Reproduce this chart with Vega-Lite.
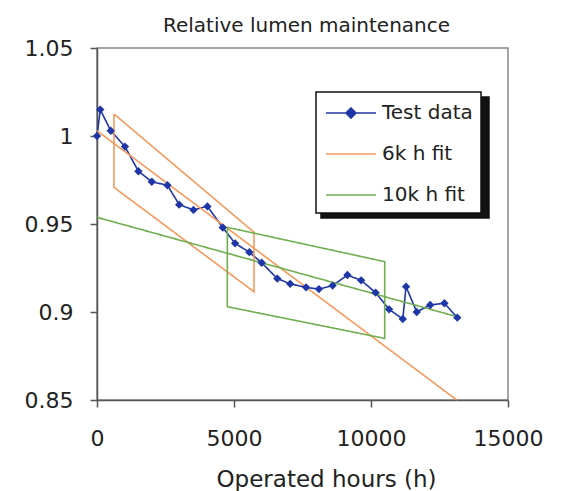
{
  "$schema": "https://vega.github.io/schema/vega-lite/v6.json",
  "width": 411,
  "height": 352,
  "autosize": "none",
  "padding": {"left": 97, "top": 48, "right": 53, "bottom": 91},
  "background": "white",
  "title": {
    "text": "Relative lumen maintenance",
    "fontSize": 20,
    "font": "DejaVu Sans",
    "fontWeight": "normal",
    "color": "#222",
    "anchor": "middle",
    "frame": "group",
    "dx": 4,
    "offset": 1
  },
  "config": {
    "font": "DejaVu Sans",
    "view": {"stroke": "#888", "strokeWidth": 1.5},
    "axis": {
      "grid": false,
      "domainColor": "#555",
      "domainWidth": 1.5,
      "tickColor": "#555",
      "tickWidth": 1.5,
      "tickSize": 7,
      "labelFontSize": 22,
      "labelColor": "#222",
      "labelFlush": false,
      "titleFontSize": 23,
      "titleFontWeight": "normal",
      "titleColor": "#222"
    }
  },
  "data": {
    "values": [
      {"series": "Test data", "lab": "Test data", "part": "t", "i": 0, "h": 0, "v": 1.0},
      {"series": "Test data", "lab": "Test data", "part": "t", "i": 1, "h": 120, "v": 1.015},
      {"series": "Test data", "lab": "Test data", "part": "t", "i": 2, "h": 500, "v": 1.003},
      {"series": "Test data", "lab": "Test data", "part": "t", "i": 3, "h": 1020, "v": 0.994},
      {"series": "Test data", "lab": "Test data", "part": "t", "i": 4, "h": 1510, "v": 0.98},
      {"series": "Test data", "lab": "Test data", "part": "t", "i": 5, "h": 2000, "v": 0.974},
      {"series": "Test data", "lab": "Test data", "part": "t", "i": 6, "h": 2570, "v": 0.972},
      {"series": "Test data", "lab": "Test data", "part": "t", "i": 7, "h": 3000, "v": 0.961},
      {"series": "Test data", "lab": "Test data", "part": "t", "i": 8, "h": 3520, "v": 0.958},
      {"series": "Test data", "lab": "Test data", "part": "t", "i": 9, "h": 4030, "v": 0.96},
      {"series": "Test data", "lab": "Test data", "part": "t", "i": 10, "h": 4590, "v": 0.948},
      {"series": "Test data", "lab": "Test data", "part": "t", "i": 11, "h": 5040, "v": 0.939},
      {"series": "Test data", "lab": "Test data", "part": "t", "i": 12, "h": 5560, "v": 0.934},
      {"series": "Test data", "lab": "Test data", "part": "t", "i": 13, "h": 6010, "v": 0.928},
      {"series": "Test data", "lab": "Test data", "part": "t", "i": 14, "h": 6580, "v": 0.919},
      {"series": "Test data", "lab": "Test data", "part": "t", "i": 15, "h": 7050, "v": 0.916},
      {"series": "Test data", "lab": "Test data", "part": "t", "i": 16, "h": 7630, "v": 0.914},
      {"series": "Test data", "lab": "Test data", "part": "t", "i": 17, "h": 8100, "v": 0.913},
      {"series": "Test data", "lab": "Test data", "part": "t", "i": 18, "h": 8600, "v": 0.915},
      {"series": "Test data", "lab": "Test data", "part": "t", "i": 19, "h": 9140, "v": 0.921},
      {"series": "Test data", "lab": "Test data", "part": "t", "i": 20, "h": 9640, "v": 0.918},
      {"series": "Test data", "lab": "Test data", "part": "t", "i": 21, "h": 10170, "v": 0.911},
      {"series": "Test data", "lab": "Test data", "part": "t", "i": 22, "h": 10660, "v": 0.9015},
      {"series": "Test data", "lab": "Test data", "part": "t", "i": 23, "h": 11160, "v": 0.896},
      {"series": "Test data", "lab": "Test data", "part": "t", "i": 24, "h": 11280, "v": 0.9144},
      {"series": "Test data", "lab": "Test data", "part": "t", "i": 25, "h": 11670, "v": 0.9},
      {"series": "Test data", "lab": "Test data", "part": "t", "i": 26, "h": 12160, "v": 0.904},
      {"series": "Test data", "lab": "Test data", "part": "t", "i": 27, "h": 12680, "v": 0.905},
      {"series": "Test data", "lab": "Test data", "part": "t", "i": 28, "h": 13150, "v": 0.8968},

      {"series": "6k h fit", "lab": "6k h fit", "part": "o-fit", "i": 0, "h": 0, "v": 1.003},
      {"series": "6k h fit", "lab": "6k h fit", "part": "o-fit", "i": 1, "h": 13130, "v": 0.85},
      {"series": "6k h fit", "lab": "6k h fit", "part": "o-band", "i": 0, "h": 620, "v": 1.0125},
      {"series": "6k h fit", "lab": "6k h fit", "part": "o-band", "i": 1, "h": 5730, "v": 0.9453},
      {"series": "6k h fit", "lab": "6k h fit", "part": "o-band", "i": 2, "h": 5730, "v": 0.9115},
      {"series": "6k h fit", "lab": "6k h fit", "part": "o-band", "i": 3, "h": 620, "v": 0.9708},
      {"series": "6k h fit", "lab": "6k h fit", "part": "o-band", "i": 4, "h": 620, "v": 1.0125},

      {"series": "10k h fit", "lab": "10k h fit", "part": "g-fit", "i": 0, "h": 0, "v": 0.9538},
      {"series": "10k h fit", "lab": "10k h fit", "part": "g-fit", "i": 1, "h": 13150, "v": 0.8973},
      {"series": "10k h fit", "lab": "10k h fit", "part": "g-band", "i": 0, "h": 4757, "v": 0.9481},
      {"series": "10k h fit", "lab": "10k h fit", "part": "g-band", "i": 1, "h": 10500, "v": 0.9286},
      {"series": "10k h fit", "lab": "10k h fit", "part": "g-band", "i": 2, "h": 10500, "v": 0.885},
      {"series": "10k h fit", "lab": "10k h fit", "part": "g-band", "i": 3, "h": 4757, "v": 0.903},
      {"series": "10k h fit", "lab": "10k h fit", "part": "g-band", "i": 4, "h": 4757, "v": 0.9481}
    ]
  },
  "encoding": {
    "x": {
      "field": "h",
      "type": "quantitative",
      "scale": {"domain": [0, 15000], "nice": false},
      "axis": {
        "values": [0, 5000, 10000, 15000],
        "format": "d",
        "title": "Operated hours (h)",
        "labelPadding": 21,
        "titleX": 229,
        "titleY": 79,
        "titleBaseline": "middle",
        "titleAnchor": "middle",
        "titleAlign": "center"
      }
    },
    "y": {
      "field": "v",
      "type": "quantitative",
      "scale": {"domain": [0.85, 1.05], "nice": false, "zero": false},
      "axis": {
        "values": [0.85, 0.9, 0.95, 1, 1.05],
        "format": ".2~f",
        "title": null,
        "labelPadding": 17
      }
    }
  },
  "layer": [
    {
      "mark": {"type": "line", "strokeWidth": 1.6},
      "encoding": {
        "detail": {"field": "part"},
        "order": {"field": "i", "type": "quantitative"},
        "color": {
          "field": "series",
          "type": "nominal",
          "scale": {
            "domain": ["Test data", "6k h fit", "10k h fit"],
            "range": ["#1f36a8", "#f59a5c", "#6fae4e"]
          },
          "legend": {
            "title": null,
            "orient": "none",
            "legendX": 219,
            "legendY": 44,
            "zindex": 2,
            "fillColor": "white",
            "strokeColor": "#111",
            "padding": 7.5,
            "rowPadding": 17,
            "symbolSize": 625,
            "symbolOffset": 14,
            "symbolStrokeWidth": 1.6,
            "labelOffset": 17.5,
            "labelFontSize": 20,
            "labelColor": "#222",
            "labelFont": "DejaVu Sans",
            "labelLimit": 200,
            "encode": {
              "legend": {"update": {"strokeWidth": {"value": 1.5}}},
              "symbols": {
                "update": {
                  "shape": {"signal": "datum.value === 'Test data' ? 'M-2,0H2M0,-0.4L0.4,0L0,0.4L-0.4,0Z' : 'M-2,0H2'"},
                  "fill": {"signal": "datum.value === 'Test data' ? '#1f36a8' : 'transparent'"}
                }
              }
            }
          }
        },
        "strokeDash": {
          "field": "lab",
          "type": "nominal",
          "scale": {"range": [[1, 0], [1, 0], [1, 0]]},
          "legend": {
            "title": null,
            "orient": "none",
            "legendX": 224,
            "legendY": 49,
            "zindex": 1,
            "fillColor": "#111",
            "strokeColor": "#111",
            "padding": 7.5,
            "rowPadding": 17,
            "symbolSize": 625,
            "symbolOffset": 14,
            "symbolType": "M-2,0H2",
            "symbolStrokeColor": "#111",
            "labelOffset": 111.5,
            "labelExpr": "''",
            "labelFontSize": 20,
            "labelFont": "DejaVu Sans",
            "encode": {
              "legend": {"update": {"strokeWidth": {"value": 1.5}}}
            }
          }
        }
      }
    },
    {
      "transform": [{"filter": "datum.series === 'Test data'"}],
      "mark": {"type": "point", "shape": "diamond", "filled": true, "size": 70, "opacity": 1, "color": "#1f36a8"}
    }
  ]
}
